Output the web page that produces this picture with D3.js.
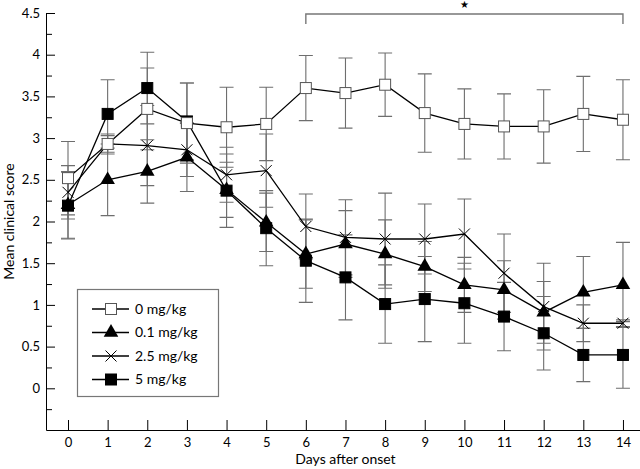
<!DOCTYPE html>
<html>
<head>
<meta charset="utf-8">
<script src="https://cdn.jsdelivr.net/npm/d3@7"></script>
<style>
  body { margin: 0; background: #fff; }
  svg { display: block; }
  text { font-family: Lato, "Open Sans", sans-serif; fill: #000; }
</style>
</head>
<body>
<div id="chart"></div>
<script>
const days = [0, 1, 2, 3, 4, 5, 6, 7, 8, 9, 10, 11, 12, 13, 14]

// 0 mg/kg
const mean0 = [2.52, 2.93, 3.35, 3.18, 3.13, 3.17, 3.60, 3.54, 3.64, 3.30, 3.17, 3.14, 3.14, 3.29, 3.22]
const err0 = [0.44, 0.12, 0.49, 0.48, 0.48, 0.44, 0.39, 0.42, 0.38, 0.47, 0.42, 0.39, 0.44, 0.45, 0.48]
// 0.1 mg/kg
const mean01 = [2.20, 2.50, 2.60, 2.77, 2.38, 1.99, 1.61, 1.73, 1.61, 1.46, 1.24, 1.18, 0.91, 1.15, 1.24]
const err01 = [0.40, 0.43, 0.38, 0.41, 0.33, 0.35, 0.41, 0.40, 0.41, 0.30, 0.33, 0.35, 0.37, 0.43, 0.51]
// 2.5 mg/kg
const mean25 = [2.35, 2.93, 2.91, 2.86, 2.56, 2.61, 1.94, 1.81, 1.79, 1.79, 1.85, 1.38, 0.98, 0.78, 0.78]
const err25 = [0.32, 0.10, 0.48, 0.32, 0.33, 0.44, 0.39, 0.45, 0.55, 0.42, 0.42, 0.47, 0.52, 0.22, 0.04]
// 5 mg/kg
const mean5 = [2.19, 3.29, 3.60, 3.20, 2.37, 1.92, 1.53, 1.33, 1.01, 1.07, 1.02, 0.86, 0.66, 0.40, 0.40]
const err5 = [0.40, 0.41, 0.43, 0.46, 0.44, 0.45, 0.50, 0.51, 0.47, 0.51, 0.48, 0.41, 0.44, 0.32, 0.40]

const yTicks = [0, 0.5, 1, 1.5, 2, 2.5, 3, 3.5, 4, 4.5]
const yMinorTicks = [-0.25, 0.25, 0.75, 1.25, 1.75, 2.25, 2.75, 3.25, 3.75, 4.25]

// significance bracket, days 6 to 14
const sigFrom = 6
const sigTo = 14

// draw order: later series sit on top
const series = [
  {name: '2.5 mg/kg', mean: mean25, err: err25, shape: 'x'},
  {name: '0.1 mg/kg', mean: mean01, err: err01, shape: 'triangle'},
  {name: '5 mg/kg', mean: mean5, err: err5, shape: 'filledSquare'},
  {name: '0 mg/kg', mean: mean0, err: err0, shape: 'openSquare'},
]
const legendOrder = ['0 mg/kg', '0.1 mg/kg', '2.5 mg/kg', '5 mg/kg']

const width = 640
const height = 469

const x = d3.scaleLinear().domain([-0.555, 14.43]).range([46, 640])
const y = d3.scaleLinear().domain([-0.5, 4.5]).range([430, 13])

const svg = d3.select('#chart').append('svg')
  .attr('width', width)
  .attr('height', height)

// axes
svg.append('g')
  .attr('transform', `translate(${x.range()[0]},0)`)
  .call(d3.axisLeft(y).tickValues(yTicks).tickSizeInner(-9).tickSizeOuter(0)
    .tickPadding(6).tickFormat(d => String(d)))
svg.append('g')
  .attr('transform', `translate(${x.range()[0]},0)`)
  .call(d3.axisLeft(y).tickValues(yMinorTicks).tickSizeInner(-6).tickSizeOuter(0)
    .tickFormat(''))
  .call(g => g.select('.domain').remove())

svg.append('g')
  .attr('transform', `translate(0,${y.range()[0]})`)
  .call(d3.axisBottom(x).tickValues(days).tickSizeInner(-10).tickSizeOuter(0)
    .tickPadding(8).tickFormat(d => String(d)))

svg.selectAll('.tick text').attr('font-size', 13).style('font-family', 'Lato, sans-serif')
svg.selectAll('.domain, .tick line').attr('stroke', '#000')

// axis titles
svg.append('text')
  .attr('transform', `translate(14,${y(2)}) rotate(-90)`)
  .attr('text-anchor', 'middle')
  .attr('font-size', 14)
  .text('Mean clinical score')

svg.append('text')
  .attr('x', x(7))
  .attr('y', 464)
  .attr('text-anchor', 'middle')
  .attr('font-size', 14)
  .text('Days after onset')

// significance bracket
svg.append('path')
  .attr('d', `M${x(sigFrom)},24V14H${x(sigTo)}V24`)
  .attr('fill', 'none')
  .attr('stroke', '#777')
  .attr('stroke-width', 1.4)
svg.append('text')
  .attr('x', x((sigFrom + sigTo) / 2))
  .attr('y', 8)
  .attr('text-anchor', 'middle')
  .attr('font-size', 10)
  .style('font-family', '"DejaVu Sans"')
  .text('★')

// error bars
const capHalf = 7
series.forEach(s => {
  const g = svg.append('g').attr('stroke', '#6e6e6e').attr('stroke-width', 1.1)
  days.forEach((d, i) => {
    const cx = x(d)
    const top = y(s.mean[i] + s.err[i])
    const bot = y(s.mean[i] - s.err[i])
    g.append('path')
      .attr('d', `M${cx},${top}V${bot}M${cx - capHalf},${top}H${cx + capHalf}M${cx - capHalf},${bot}H${cx + capHalf}`)
      .attr('fill', 'none')
  })
})

// markers
function drawMarker(g, shape, cx, cy) {
  if (shape === 'openSquare' || shape === 'filledSquare') {
    g.append('rect')
      .attr('x', cx - 5.5).attr('y', cy - 5.5)
      .attr('width', 11).attr('height', 11)
      .attr('fill', shape === 'openSquare' ? '#fff' : '#000')
      .attr('stroke', shape === 'openSquare' ? '#555' : '#000')
      .attr('stroke-width', 1)
  } else if (shape === 'triangle') {
    g.append('path')
      .attr('d', d3.symbol(d3.symbolTriangle, 92)())
      .attr('transform', `translate(${cx},${cy})`)
      .attr('fill', '#000')
  } else {
    const r = 5.5
    g.append('path')
      .attr('d', `M${cx - r},${cy - r}L${cx + r},${cy + r}M${cx - r},${cy + r}L${cx + r},${cy - r}`)
      .attr('stroke', '#000')
      .attr('stroke-width', 1)
  }
}

const line = d3.line()
  .x(d => x(d[0]))
  .y(d => y(d[1]))

series.forEach(s => {
  const pts = days.map((d, i) => [d, s.mean[i]])
  svg.append('path')
    .datum(pts)
    .attr('d', line)
    .attr('fill', 'none')
    .attr('stroke', '#000')
    .attr('stroke-width', 1.3)
  const g = svg.append('g')
  pts.forEach(p => drawMarker(g, s.shape, x(p[0]), y(p[1])))
})

// legend
const legend = svg.append('g')
legend.append('rect')
  .attr('x', 77.5).attr('y', 289.5)
  .attr('width', 141).attr('height', 107)
  .attr('fill', '#fff')
  .attr('stroke', '#777')
  .attr('stroke-width', 1.2)

legendOrder.forEach((name, i) => {
  const s = series.find(d => d.name === name)
  const ly = 309 + i * 23.5
  legend.append('line')
    .attr('x1', 92).attr('x2', 129)
    .attr('y1', ly).attr('y2', ly)
    .attr('stroke', '#000')
    .attr('stroke-width', 1.3)
  drawMarker(legend, s.shape, 111, ly)
  legend.append('text')
    .attr('x', 135)
    .attr('y', ly)
    .attr('dy', '0.35em')
    .attr('font-size', 14)
    .text(name)
})
</script>
</body>
</html>
